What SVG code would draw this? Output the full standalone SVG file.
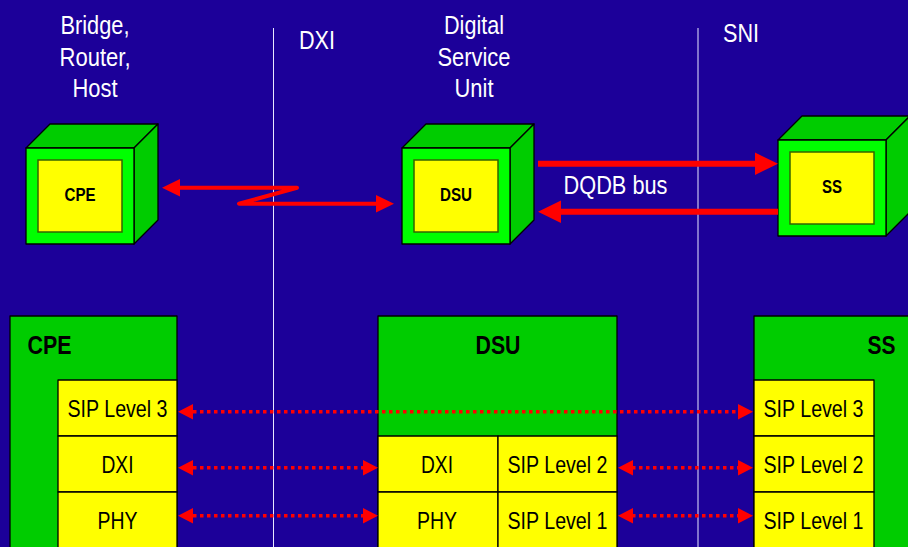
<svg xmlns="http://www.w3.org/2000/svg" width="908" height="547" viewBox="0 0 908 547">
<style>
text{font-family:"Liberation Sans",Arial,sans-serif;text-anchor:middle}
.w{fill:#fff;font-size:25px}
.t{fill:#000;font-size:24px}
.b{fill:#000;font-size:25px;font-weight:bold}
.s{fill:#000;font-size:18px;font-weight:bold}
.e{stroke:#000;stroke-width:1.3;stroke-linejoin:round}
.f{fill:#00ff00}.d{fill:#00cc00}.y{fill:#ffff00}
.i{fill:#ffff00;stroke:#336600;stroke-width:1.5}
.r{stroke:#ff0000;fill:none}
.l{stroke:#e8e8ff;stroke-width:1;fill:none}
.a{fill:#ff0000}
</style>
<rect width="908" height="547" fill="#1c0099"/>
<g id="boundaries"><path class="l" d="M273.500 28V547M698 28V547"/></g>
<g id="label-bridge"><text class="w" x="95" y="34" textLength="69" lengthAdjust="spacingAndGlyphs">Bridge,</text><text class="w" x="95" y="66" textLength="71" lengthAdjust="spacingAndGlyphs">Router,</text><text class="w" x="95" y="97" textLength="45" lengthAdjust="spacingAndGlyphs">Host</text></g>
<g id="label-dsu"><text class="w" x="474" y="34" textLength="60" lengthAdjust="spacingAndGlyphs">Digital</text><text class="w" x="474" y="66" textLength="73" lengthAdjust="spacingAndGlyphs">Service</text><text class="w" x="474" y="97" textLength="39" lengthAdjust="spacingAndGlyphs">Unit</text></g>
<g id="label-dxi"><text class="w" x="317" y="49" textLength="36" lengthAdjust="spacingAndGlyphs">DXI</text></g>
<g id="label-sni"><text class="w" x="741" y="42" textLength="36" lengthAdjust="spacingAndGlyphs">SNI</text></g>
<g id="cube-cpe">
<path class="e d" d="M26 148L50 124H158L134 148Z"/><path class="e d" d="M134 148L158 124V220L134 244Z"/>
<rect class="e f" x="26" y="148" width="108" height="96"/><rect class="i" x="38" y="160" width="84" height="72"/>
<text class="s" x="80" y="201" textLength="31" lengthAdjust="spacingAndGlyphs">CPE</text></g>
<g id="cube-dsu">
<path class="e d" d="M402 148L426 124H534L510 148Z"/><path class="e d" d="M510 148L534 124V220L510 244Z"/>
<rect class="e f" x="402" y="148" width="108" height="96"/><rect class="i" x="414" y="160" width="84" height="72"/>
<text class="s" x="456" y="201" textLength="32" lengthAdjust="spacingAndGlyphs">DSU</text></g>
<g id="cube-ss">
<path class="e d" d="M778 140L802 116H910L886 140Z"/><path class="e d" d="M886 140L910 116V212L886 236Z"/>
<rect class="e f" x="778" y="140" width="108" height="96"/><rect class="i" x="790" y="152" width="84" height="72"/>
<text class="s" x="832" y="193" textLength="20" lengthAdjust="spacingAndGlyphs">SS</text></g>
<g id="stack-cpe">
<rect class="e d" x="10" y="316" width="167" height="240"/>
<text class="b" x="49.500" y="354" textLength="44" lengthAdjust="spacingAndGlyphs">CPE</text>
<rect class="e y" x="58" y="380" width="119" height="56"/><rect class="e y" x="58" y="436" width="119" height="56"/><rect class="e y" x="58" y="492" width="119" height="64"/>
<text class="t" x="117.500" y="417" textLength="100" lengthAdjust="spacingAndGlyphs">SIP Level 3</text><text class="t" x="117.500" y="473" textLength="32" lengthAdjust="spacingAndGlyphs">DXI</text><text class="t" x="117.500" y="529" textLength="40" lengthAdjust="spacingAndGlyphs">PHY</text></g>
<g id="stack-dsu">
<rect class="e d" x="378" y="316" width="239" height="240"/>
<text class="b" x="498" y="354" textLength="45" lengthAdjust="spacingAndGlyphs">DSU</text>
<rect class="e y" x="378" y="436" width="120" height="56"/><rect class="e y" x="498" y="436" width="119" height="56"/><rect class="e y" x="378" y="492" width="120" height="64"/><rect class="e y" x="498" y="492" width="119" height="64"/>
<text class="t" x="437" y="473" textLength="32" lengthAdjust="spacingAndGlyphs">DXI</text><text class="t" x="557.500" y="473" textLength="100" lengthAdjust="spacingAndGlyphs">SIP Level 2</text><text class="t" x="437" y="529" textLength="40" lengthAdjust="spacingAndGlyphs">PHY</text><text class="t" x="557.500" y="529" textLength="100" lengthAdjust="spacingAndGlyphs">SIP Level 1</text></g>
<g id="stack-ss">
<rect class="e d" x="754" y="316" width="170" height="240"/>
<text class="b" x="881.500" y="354" textLength="28" lengthAdjust="spacingAndGlyphs">SS</text>
<rect class="e y" x="754" y="380" width="120" height="56"/><rect class="e y" x="754" y="436" width="120" height="56"/><rect class="e y" x="754" y="492" width="120" height="64"/>
<text class="t" x="813.500" y="417" textLength="100" lengthAdjust="spacingAndGlyphs">SIP Level 3</text><text class="t" x="813.500" y="473" textLength="100" lengthAdjust="spacingAndGlyphs">SIP Level 2</text><text class="t" x="813.500" y="529" textLength="100" lengthAdjust="spacingAndGlyphs">SIP Level 1</text></g>
<g id="connectors">
<path class="r" stroke-width="4" stroke-linecap="round" stroke-linejoin="round" d="M178 187.700H297L239 203.700H376"/>
<path class="a" d="M162 187.700L180 179V196.500ZM394 203.700L376 195V212.500Z"/>
<path class="r" stroke-width="6" d="M538 163.700H757M778 211.800H560"/>
<path class="a" d="M778 163.700L755 152.500V175ZM538 211.800L561 200.500V223Z"/>
<g class="r" stroke-width="3.500" stroke-dasharray="3.500 3.500">
<path d="M193 411.700H738"/><path d="M193 467.700H363"/><path d="M193 515.700H363"/><path d="M632 467.700H738"/><path d="M632 515.700H738"/></g>
<path class="a" d="M178 411.700L193 404V419.400ZM753 411.700L738 404V419.400ZM178 467.700L193 460V475.400ZM378 467.700L363 460V475.400ZM178 515.700L193 508V523.400ZM378 515.700L363 508V523.400ZM618 467.700L633 460V475.400ZM753 467.700L738 460V475.400ZM618 515.700L633 508V523.400ZM753 515.700L738 508V523.400Z"/>
</g>
<g id="label-dqdb"><text class="w" x="615.500" y="194" textLength="104" lengthAdjust="spacingAndGlyphs">DQDB bus</text></g>
</svg>
